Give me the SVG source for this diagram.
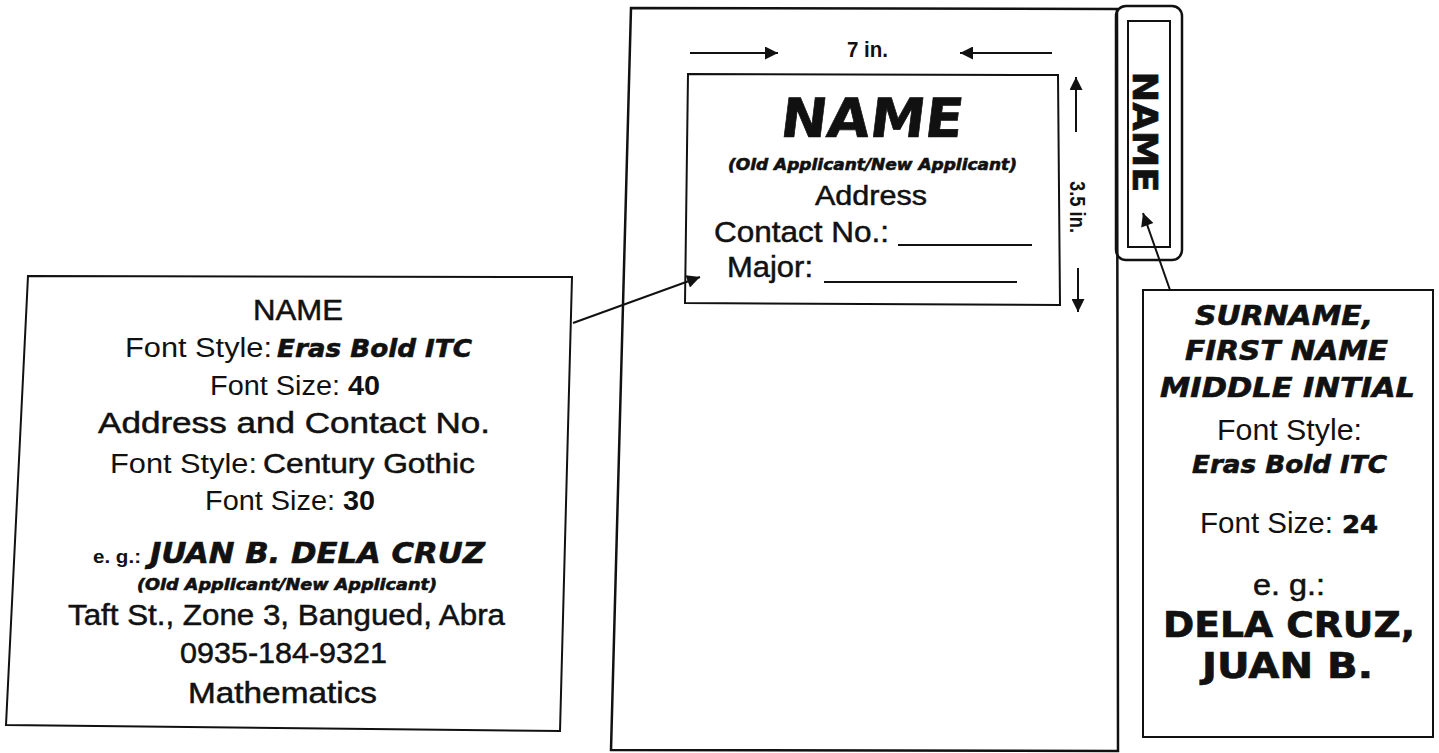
<svg xmlns="http://www.w3.org/2000/svg" width="1439" height="753" viewBox="0 0 1439 753">
<style>
.frame{fill:none;stroke:#111;stroke-width:2.5;stroke-linejoin:miter}
.thin{fill:none;stroke:#111;stroke-width:2}
.cg{font-family:"Liberation Sans",Arial,sans-serif;fill:#111}
.dk{stroke:#111;stroke-width:0.5}
.cgb{font-family:"Liberation Sans",Arial,sans-serif;font-weight:bold;fill:#111}
.eras{font-family:"DejaVu Sans",Verdana,sans-serif;font-weight:bold;font-style:italic;fill:#111;stroke:#111;stroke-width:0.6}
.erasu{font-family:"DejaVu Sans",Verdana,sans-serif;font-weight:bold;fill:#111;stroke:#111;stroke-width:0.7}
.conn{stroke:#111;stroke-width:2;fill:none;marker-end:url(#ah)}
</style>
<defs>
<marker id="ah" viewBox="0 0 10 10" refX="10" refY="5" markerWidth="16" markerHeight="13" markerUnits="userSpaceOnUse" orient="auto">
<path d="M0,0 L10,5 L0,10 z" fill="#111"/>
</marker>
</defs>
<rect width="1439" height="753" fill="#fff"/>

<g id="folder">
<path class="frame" d="M631,8 L1117,9 L1118,751 L611,750 Z" stroke-width="3"/>
</g>

<g id="tab">
<rect class="frame" x="1116" y="6" width="66" height="254" rx="10" stroke-width="3"/>
<rect class="thin" x="1128" y="21" width="42" height="226"/>
<text class="erasu" transform="translate(1133,132) rotate(90)" text-anchor="middle" font-size="34" textLength="121" lengthAdjust="spacingAndGlyphs">NAME</text>
</g>

<g id="label">
<path class="thin" d="M688,74 L1058,75 L1060,305 L685,303 Z"/>
<text class="erasu" transform="translate(779,137) skewX(-7)" font-size="54" textLength="182" lengthAdjust="spacingAndGlyphs" stroke-width="1.2">NAME</text>
<text class="eras" x="728" y="170" font-size="15" textLength="289" lengthAdjust="spacingAndGlyphs" stroke-width="0.3">(Old Applicant/New Applicant)</text>
<text class="cg dk" x="815" y="205" font-size="28" textLength="112" lengthAdjust="spacingAndGlyphs">Address</text>
<text class="cg dk" x="714" y="242" font-size="30" textLength="175" lengthAdjust="spacingAndGlyphs">Contact No.:</text>
<line x1="898" y1="245" x2="1032" y2="245" stroke="#111" stroke-width="2"/>
<text class="cg dk" x="727" y="277" font-size="30" textLength="86" lengthAdjust="spacingAndGlyphs">Major:</text>
<line x1="824" y1="282" x2="1017" y2="282" stroke="#111" stroke-width="2"/>
</g>

<g id="dimensions">
<text class="cgb" x="847" y="57" font-size="22" textLength="41" lengthAdjust="spacingAndGlyphs">7 in.</text>
<text class="cgb" transform="translate(1070,207) rotate(90)" text-anchor="middle" font-size="22" textLength="52" lengthAdjust="spacingAndGlyphs">3.5 in.</text>
</g>

<g id="left-box">
<path class="thin" d="M28,276 L572,277 L560,731 L6,725 Z"/>
<text class="cg dk" x="253" y="320" font-size="30" textLength="90" lengthAdjust="spacingAndGlyphs">NAME</text>
<text class="cg" x="125" y="357" font-size="27" textLength="147" lengthAdjust="spacingAndGlyphs">Font Style:</text>
<text class="eras" x="277" y="357" font-size="25" textLength="195" lengthAdjust="spacingAndGlyphs">Eras Bold ITC</text>
<text class="cg" x="210" y="395" font-size="27" textLength="130" lengthAdjust="spacingAndGlyphs">Font Size:</text>
<text class="cgb" x="348" y="395" font-size="27" textLength="32" lengthAdjust="spacingAndGlyphs">40</text>
<text class="cg dk" x="98" y="433" font-size="29" textLength="392" lengthAdjust="spacingAndGlyphs">Address and Contact No.</text>
<text class="cg" x="110" y="473" font-size="27" textLength="147" lengthAdjust="spacingAndGlyphs">Font Style:</text>
<text class="cg dk" x="263" y="473" font-size="28" textLength="212" lengthAdjust="spacingAndGlyphs">Century Gothic</text>
<text class="cg" x="205" y="510" font-size="27" textLength="130" lengthAdjust="spacingAndGlyphs">Font Size:</text>
<text class="cgb" x="343" y="510" font-size="27" textLength="32" lengthAdjust="spacingAndGlyphs">30</text>
<text class="cgb" x="93" y="563" font-size="18" textLength="48" lengthAdjust="spacingAndGlyphs">e. g.:</text>
<text class="eras" x="150" y="563" font-size="28" textLength="335" lengthAdjust="spacingAndGlyphs">JUAN B. DELA CRUZ</text>
<text class="eras" x="137" y="590" font-size="15" textLength="300" lengthAdjust="spacingAndGlyphs" stroke-width="0.3">(Old Applicant/New Applicant)</text>
<text class="cg dk" x="68" y="625" font-size="29" textLength="437" lengthAdjust="spacingAndGlyphs">Taft St., Zone 3, Bangued, Abra</text>
<text class="cg dk" x="180" y="663" font-size="29" textLength="207" lengthAdjust="spacingAndGlyphs">0935-184-9321</text>
<text class="cg dk" x="188" y="703" font-size="29" textLength="189" lengthAdjust="spacingAndGlyphs">Mathematics</text>
</g>

<g id="right-box">
<path class="thin" d="M1143,290 L1433,290 L1433,737 L1143,737 Z"/>
<text class="eras" x="1195" y="325" font-size="26" textLength="178" lengthAdjust="spacingAndGlyphs">SURNAME,</text>
<text class="eras" x="1185" y="360" font-size="26" textLength="203" lengthAdjust="spacingAndGlyphs">FIRST NAME</text>
<text class="eras" x="1160" y="397" font-size="26" textLength="255" lengthAdjust="spacingAndGlyphs">MIDDLE INTIAL</text>
<text class="cg" x="1217" y="440" font-size="29" textLength="145" lengthAdjust="spacingAndGlyphs">Font Style:</text>
<text class="eras" x="1192" y="473" font-size="24" textLength="195" lengthAdjust="spacingAndGlyphs">Eras Bold ITC</text>
<text class="cg" x="1200" y="533" font-size="29" textLength="133" lengthAdjust="spacingAndGlyphs">Font Size:</text>
<text class="erasu" x="1342" y="533" font-size="24" textLength="36" lengthAdjust="spacingAndGlyphs">24</text>
<text class="cg dk" x="1253" y="595" font-size="29" textLength="72" lengthAdjust="spacingAndGlyphs">e. g.:</text>
<text class="erasu" x="1163" y="637" font-size="36" textLength="252" lengthAdjust="spacingAndGlyphs">DELA CRUZ,</text>
<text class="erasu" x="1202" y="678" font-size="36" textLength="171" lengthAdjust="spacingAndGlyphs">JUAN B.</text>
</g>

<g id="connectors">
<line class="conn" x1="690" y1="53" x2="778" y2="53"/>
<line class="conn" x1="1052" y1="53" x2="960" y2="53"/>
<line class="conn" x1="1076" y1="132" x2="1076" y2="77"/>
<line class="conn" x1="1078" y1="268" x2="1078" y2="312"/>
<line class="conn" x1="573" y1="323" x2="700" y2="277"/>
<line class="conn" x1="1170" y1="290" x2="1143" y2="213"/>
</g>
</svg>
